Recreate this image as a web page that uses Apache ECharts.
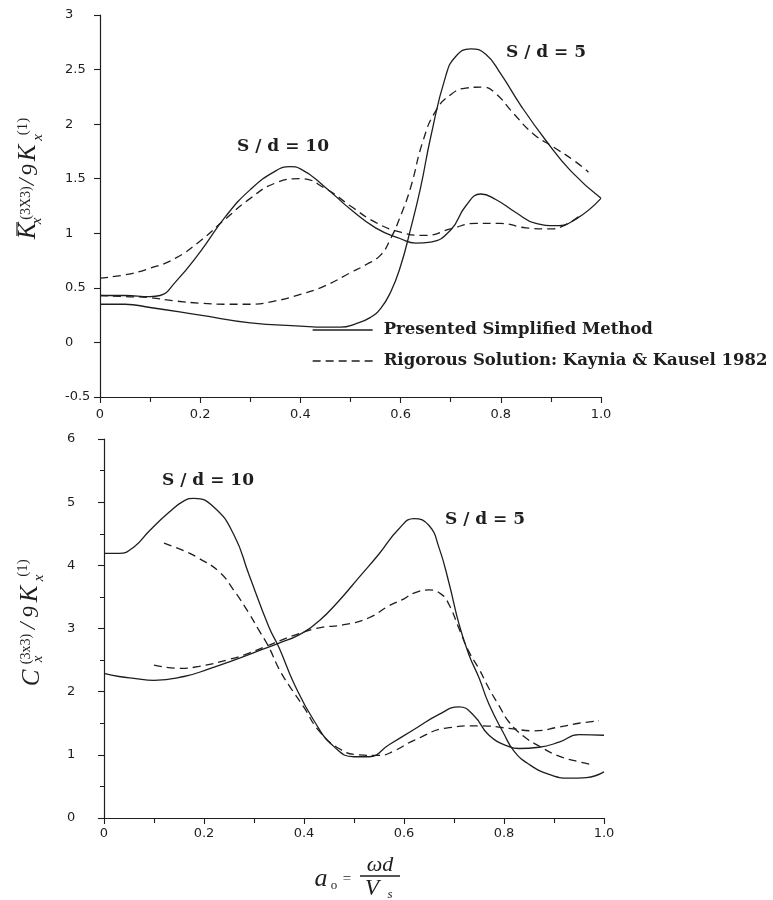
<!DOCTYPE html>
<html>
<head>
<meta charset="utf-8">
<script src="https://cdn.jsdelivr.net/npm/echarts@6/dist/echarts.min.js"></script>
<style>
html,body{margin:0;padding:0;background:#fff;}
#chart{width:773px;height:900px;}
</style>
</head>
<body>
<div id="chart"></div>
<script>
// ---------- data ----------
const xTicks = [0, 0.2, 0.4, 0.6, 0.8, 1.0];
const kTicks = [-0.5, 0, 0.5, 1, 1.5, 2, 2.5, 3];
const cTicks = [0, 1, 2, 3, 4, 5, 6];

const legendNames = ['Presented Simplified Method', 'Rigorous Solution: Kaynia & Kausel 1982'];

// Upper panel: stiffness K
const kSimp10X = [0, 0.05, 0.1, 0.12, 0.15, 0.2, 0.25, 0.3, 0.35, 0.38, 0.4, 0.45, 0.5, 0.55, 0.6, 0.63, 0.66, 0.7, 0.73, 0.76, 0.79, 0.83, 0.87, 0.91, 0.95, 1.0];
const kSimp10Y = [0.43, 0.43, 0.42, 0.43, 0.55, 0.83, 1.15, 1.40, 1.57, 1.61, 1.59, 1.42, 1.22, 1.05, 0.95, 0.91, 0.92, 1.03, 1.25, 1.36, 1.31, 1.19, 1.09, 1.07, 1.13, 1.32];

const kRig10X = [0, 0.05, 0.1, 0.15, 0.2, 0.25, 0.3, 0.35, 0.4, 0.45, 0.5, 0.55, 0.6, 0.65, 0.7, 0.75, 0.8, 0.85, 0.9, 0.93, 0.96];
const kRig10Y = [0.59, 0.62, 0.68, 0.77, 0.93, 1.13, 1.32, 1.46, 1.50, 1.41, 1.25, 1.10, 1.01, 0.98, 1.04, 1.09, 1.09, 1.05, 1.04, 1.08, 1.17];

const kSimp5X = [0, 0.05, 0.1, 0.2, 0.3, 0.4, 0.45, 0.48, 0.51, 0.54, 0.56, 0.58, 0.6, 0.62, 0.64, 0.66, 0.69, 0.71, 0.74, 0.77, 0.8, 0.84, 0.89, 0.94, 1.0];
const kSimp5Y = [0.35, 0.35, 0.32, 0.25, 0.18, 0.15, 0.14, 0.14, 0.17, 0.23, 0.31, 0.46, 0.70, 1.04, 1.42, 1.88, 2.44, 2.62, 2.69, 2.64, 2.46, 2.17, 1.85, 1.57, 1.32];

const kRig5X = [0, 0.05, 0.1, 0.15, 0.2, 0.25, 0.3, 0.35, 0.4, 0.45, 0.5, 0.53, 0.56, 0.58, 0.6, 0.62, 0.645, 0.67, 0.7, 0.73, 0.765, 0.79, 0.825, 0.865, 0.905, 0.945, 0.975];
const kRig5Y = [0.43, 0.42, 0.41, 0.38, 0.36, 0.35, 0.35, 0.38, 0.44, 0.52, 0.64, 0.71, 0.80, 0.95, 1.16, 1.42, 1.85, 2.12, 2.27, 2.33, 2.34, 2.28, 2.10, 1.91, 1.79, 1.67, 1.56];

// Lower panel: damping C
const cSimp10X = [0, 0.03, 0.06, 0.09, 0.13, 0.16, 0.18, 0.22, 0.26, 0.29, 0.33, 0.35, 0.38, 0.42, 0.46, 0.5, 0.53, 0.57, 0.62, 0.67, 0.71, 0.74, 0.77, 0.81, 0.83, 0.87, 0.91, 0.95, 1.0];
const cSimp10Y = [4.19, 4.19, 4.29, 4.54, 4.84, 5.02, 5.06, 4.92, 4.48, 3.85, 3.02, 2.70, 2.13, 1.54, 1.13, 0.97, 0.97, 1.16, 1.40, 1.64, 1.76, 1.62, 1.31, 1.13, 1.10, 1.12, 1.20, 1.32, 1.31];

const cRig10X = [0.12, 0.16, 0.19, 0.23, 0.26, 0.29, 0.31, 0.33, 0.35, 0.37, 0.4, 0.43, 0.47, 0.51, 0.55, 0.58, 0.62, 0.69, 0.75, 0.81, 0.86, 0.91, 0.95, 0.99];
const cRig10Y = [4.35, 4.23, 4.11, 3.90, 3.60, 3.24, 2.97, 2.70, 2.36, 2.10, 1.75, 1.38, 1.10, 1.00, 0.99, 1.06, 1.23, 1.43, 1.46, 1.42, 1.38, 1.44, 1.50, 1.54];

const cSimp5X = [0, 0.03, 0.06, 0.1, 0.16, 0.21, 0.26, 0.31, 0.35, 0.39, 0.43, 0.47, 0.51, 0.55, 0.59, 0.62, 0.65, 0.67, 0.69, 0.71, 0.73, 0.75, 0.77, 0.8, 0.82, 0.85, 0.89, 0.93, 0.965, 1.0];
const cSimp5Y = [2.29, 2.24, 2.21, 2.18, 2.24, 2.36, 2.50, 2.65, 2.77, 2.90, 3.12, 3.44, 3.81, 4.18, 4.58, 4.74, 4.63, 4.28, 3.72, 3.07, 2.58, 2.22, 1.80, 1.33, 1.06, 0.85, 0.69, 0.63, 0.64, 0.73];

const cRig5X = [0.1, 0.15, 0.19, 0.25, 0.29, 0.34, 0.39, 0.43, 0.48, 0.53, 0.57, 0.6, 0.62, 0.65, 0.675, 0.69, 0.71, 0.73, 0.75, 0.77, 0.79, 0.81, 0.84, 0.87, 0.91, 0.95, 0.98];
const cRig5Y = [2.42, 2.37, 2.40, 2.51, 2.61, 2.77, 2.92, 3.01, 3.06, 3.17, 3.36, 3.47, 3.56, 3.61, 3.54, 3.38, 3.00, 2.63, 2.36, 2.05, 1.78, 1.52, 1.29, 1.14, 0.98, 0.89, 0.84];

// ---------- chart ----------
const INK = '#1e1e1e';
const zip = (xs, ys) => xs.map((x, i) => [x, ys[i]]);

function curve(name, xs, ys, idx, dashed) {
  return {
    type: 'line', name: name, xAxisIndex: idx, yAxisIndex: idx,
    data: zip(xs, ys), smooth: 0.5, showSymbol: false, symbol: 'none',
    lineStyle: { color: INK, width: 1.3, type: dashed ? [8, 5] : 'solid' },
    itemStyle: { color: INK },
    emphasis: { disabled: true }, silent: true
  };
}

function xAxisFor(idx) {
  return {
    type: 'value', gridIndex: idx, min: 0, max: 1, interval: 0.2,
    axisLine: { show: true, onZero: false, lineStyle: { color: INK, width: 1.2 } },
    axisTick: { show: true, length: 6, lineStyle: { color: INK, width: 1.1 } },
    minorTick: { show: true, splitNumber: 2, length: 5, lineStyle: { color: INK, width: 1.1 } },
    splitLine: { show: false },
    axisLabel: {
      color: INK, fontFamily: 'DejaVu Sans', fontSize: 13, margin: idx === 0 ? 11 : 9,
      formatter: v => (v === 0 ? '0' : v.toFixed(1))
    }
  };
}

function yAxisFor(idx, min, max, interval, minor, margin) {
  return {
    type: 'value', gridIndex: idx, min: min, max: max, interval: interval,
    axisLine: { show: true, onZero: false, lineStyle: { color: INK, width: 1.2 } },
    axisTick: { show: true, length: 6, lineStyle: { color: INK, width: 1.1 } },
    minorTick: { show: minor, splitNumber: 2, length: 4, lineStyle: { color: INK, width: 1 } },
    splitLine: { show: false },
    axisLabel: {
      color: INK, fontFamily: 'DejaVu Sans', fontSize: 13, margin: margin, align: 'left',
      formatter: v => String(v)
    }
  };
}

const serifIt = (px) => 'italic ' + px + 'px "Liberation Serif"';
const serif = (px) => px + 'px "Liberation Serif"';
function t(text, x, y, font) {
  return { type: 'text', x: x, y: y, silent: true,
    style: { text: text, font: font, fill: INK, textAlign: 'center', textVerticalAlign: 'middle' } };
}
const boldAnno = 'bold 17px "DejaVu Serif"';

const option = {
  animation: false,
  backgroundColor: '#ffffff',
  grid: [
    { left: 100, top: 15, width: 501, height: 382 },
    { left: 104, top: 439, width: 500, height: 379 }
  ],
  xAxis: [xAxisFor(0), xAxisFor(1)],
  yAxis: [
    yAxisFor(0, kTicks[0], kTicks[kTicks.length - 1], 0.5, false, 35),
    yAxisFor(1, cTicks[0], cTicks[cTicks.length - 1], 1, true, 37)
  ],
  legend: {
    data: legendNames,
    orient: 'vertical', left: 312, top: 321, padding: 0,
    itemWidth: 60, itemHeight: 18, itemGap: 13,
    selectedMode: false,
    itemStyle: { opacity: 0 },
    lineStyle: { width: 1.3 },
    textStyle: { color: INK, fontFamily: 'DejaVu Serif', fontWeight: 'bold', fontSize: 16.5, padding: [0, 0, 0, 6], lineHeight: 18 }
  },
  series: [
    curve(legendNames[0], kSimp10X, kSimp10Y, 0, false),
    curve(legendNames[1], kRig10X, kRig10Y, 0, true),
    curve(legendNames[0], kSimp5X, kSimp5Y, 0, false),
    curve(legendNames[1], kRig5X, kRig5Y, 0, true),
    curve(legendNames[0], cSimp10X, cSimp10Y, 1, false),
    curve(legendNames[1], cRig10X, cRig10Y, 1, true),
    curve(legendNames[0], cSimp5X, cSimp5Y, 1, false),
    curve(legendNames[1], cRig5X, cRig5Y, 1, true)
  ],
  graphic: [
    t('S / d = 10', 283, 147, boldAnno),
    t('S / d = 5', 546, 53, boldAnno),
    t('S / d = 10', 208, 481, boldAnno),
    t('S / d = 5', 485, 520, boldAnno),
    // upper y-axis title (rotated)
    { type: 'group', x: 30, y: 240, rotation: Math.PI / 2, silent: true, children: [
      t('K', 9, -1.5, serifIt(25)),
      { type: 'line', shape: { x1: 4, y1: -13, x2: 18, y2: -13 }, style: { stroke: INK, lineWidth: 1.2 } },
      t('x', 19, 7.5, serifIt(15)),
      t('(3X3)', 37, -4, serif(14)),
      t('/', 58, -2, serifIt(24)),
      t('9', 70, 1, serifIt(23)),
      t('K', 87, -1.5, serifIt(25)),
      t('x', 102.5, 8, serifIt(15)),
      t('(1)', 113.5, -7, serif(15))
    ]},
    // lower y-axis title (rotated)
    { type: 'group', x: 30, y: 690, rotation: Math.PI / 2, silent: true, children: [
      t('C', 12, 2, serifIt(25)),
      t('x', 31, 8, serifIt(15)),
      t('(3x3)', 41, -4, serif(14)),
      t('/', 64, -1, serifIt(24)),
      t('9', 78, 1.5, serifIt(23)),
      t('K', 96, 0, serifIt(25)),
      t('x', 112, 9, serifIt(15)),
      t('(1)', 122, -7, serif(15))
    ]},
    // x-axis title a0 = ωd / Vs
    t('a', 321, 879, serifIt(26)),
    t('o', 334, 886, serif(13)),
    t('=', 347, 879, serif(15)),
    t('ωd', 380, 865, serifIt(22)),
    { type: 'line', silent: true, shape: { x1: 360, y1: 876, x2: 400, y2: 876 }, style: { stroke: INK, lineWidth: 1.3 } },
    t('V', 372, 889, serifIt(23)),
    t('s', 390, 895, serifIt(13))
  ]
};

const chart = echarts.init(document.getElementById('chart'), null, { renderer: 'canvas' });
chart.setOption(option);
</script>
</body>
</html>
